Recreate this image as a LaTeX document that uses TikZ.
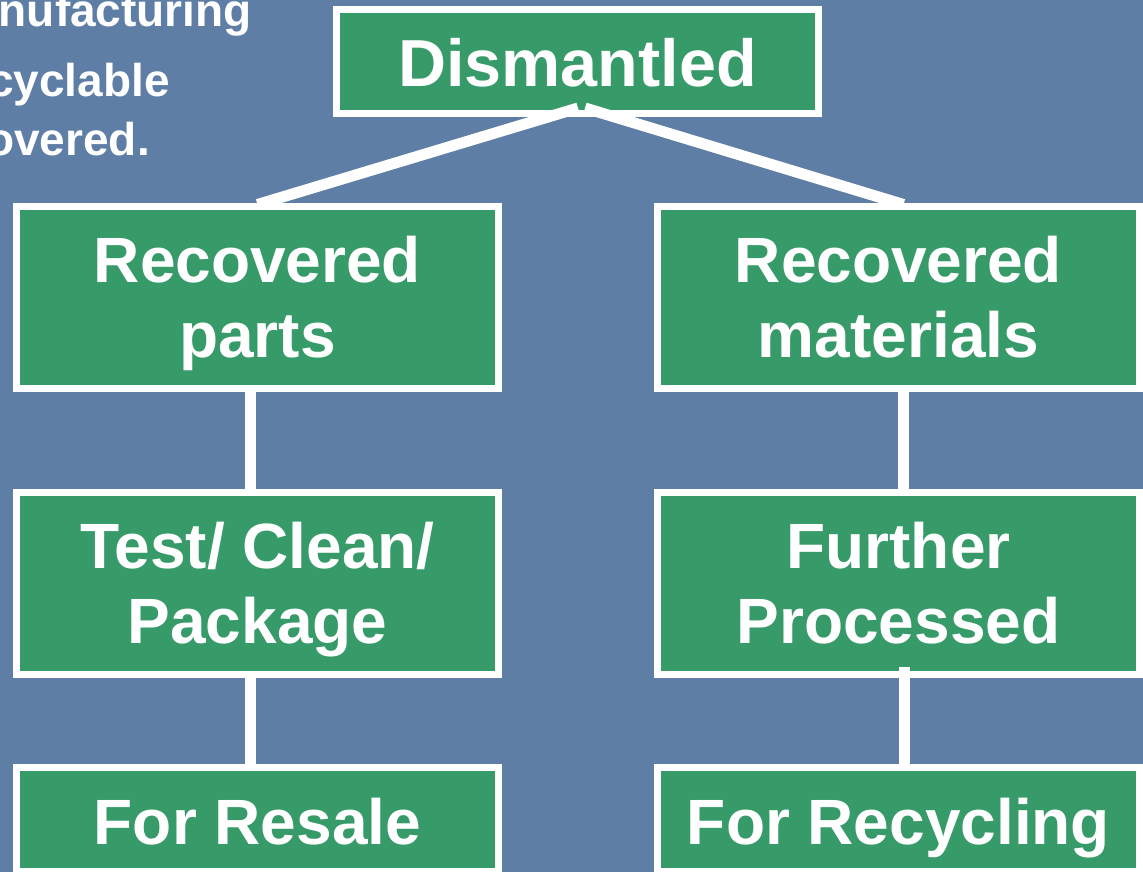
\documentclass[tikz,border=0pt]{standalone}
\usepackage{fontspec}
\setmainfont{Liberation Sans}
\usetikzlibrary{calc}
\definecolor{bgblue}{RGB}{95,126,166}
\definecolor{boxgreen}{RGB}{55,154,105}
\newcommand\twolines[2]{\raisebox{0pt}[50pt][80pt]{\begin{tabular}[t]{@{}c@{}}#1\\#2\end{tabular}}}
\newcommand\oneline[1]{\raisebox{0pt}[50pt][0pt]{#1}}
\tikzset{
  box/.style={draw=white, line width=7pt, fill=boxgreen, inner sep=0pt, outer sep=0pt,
    minimum width=482pt, text=white, font=\bfseries\fontsize{64}{75}\selectfont},
  tall/.style={box, minimum height=182pt},
  short/.style={box, minimum height=104pt},
  conn/.style={draw=white, line width=11pt},
  side/.style={text=white, font=\bfseries\fontsize{46}{55}\selectfont, inner sep=0pt, anchor=base east}
}
\begin{document}
\begin{tikzpicture}[x=1pt,y=-1pt]
\useasboundingbox (0,0) rectangle (1143,872);
\clip (0,0) rectangle (1143,872);
\fill[bgblue] (0,0) rectangle (1143,872);
% partial text at top left
\node[side] (t1) at (252,27) {nufacturing};
\node[side] (t2) at (170,97) {cyclable};
\node[side] (t3) at (150,155) {overed.};
% boxes
\node[short, font=\bfseries\fontsize{66.5}{75}\selectfont] (dis) at (577.5,61.5) {\oneline{Dismantled}};
\node[tall] (rp) at (257.5,297.5) {\twolines{Recovered}{parts}};
\node[tall] (rm) at (898.5,297.5) {\twolines{Recovered}{materials}};
\node[tall] (tcp) at (257.5,583.5) {\twolines{Test/ Clean/}{Package}};
\node[tall] (fp) at (898.5,583.5) {\twolines{Further}{Processed}};
\node[short] (fr) at (257.5,819.5) {\oneline{For Resale}};
\node[short] (frc) at (898.5,819.5) {\oneline{For Recycling}};
% connectors
\draw[conn] ($(dis.south)+(0.5,-5.5)$) -- ($(rp.north)+(0,-2)$);
\draw[conn] ($(dis.south)+(7.5,-5.5)$) -- ($(rm.north)+(5,-2)$);
\draw[conn] ($(rp.south)+(-7.5,0)$) -- ($(tcp.north)+(-7.5,0)$);
\draw[conn] ($(tcp.south)+(-7,0)$) -- ($(fr.north)+(-7,0)$);
\draw[conn] ($(rm.south)+(5,0)$) -- ($(fp.north)+(5,0)$);
\draw[conn] ($(fp.south)+(6,-7.5)$) -- ($(frc.north)+(6,0)$);
\end{tikzpicture}
\end{document}
